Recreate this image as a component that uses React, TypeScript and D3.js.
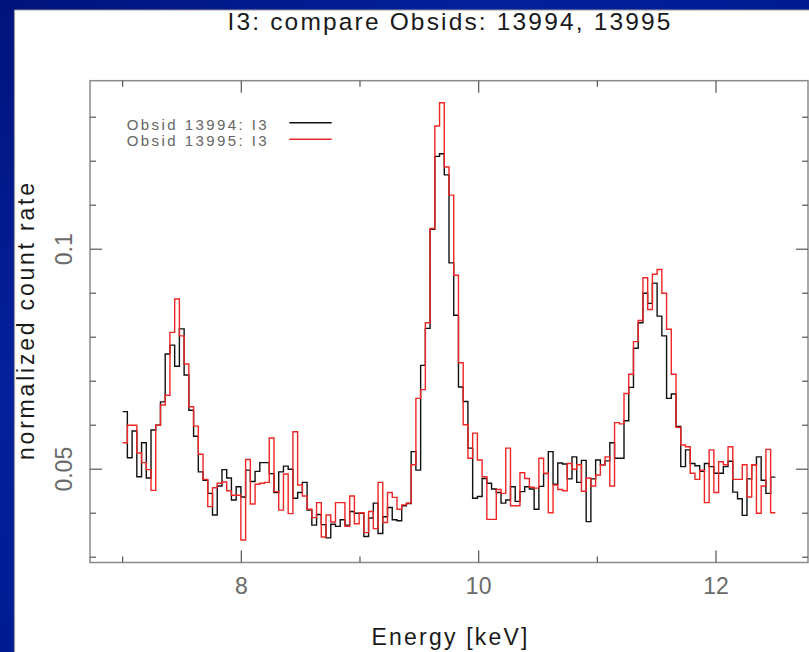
import React from 'react';
import * as d3 from 'd3';

// Spectrum bins span 7.0–12.5 keV, equal width
const energyStart = 7.0;
const energyEnd = 12.5;

// Normalized count rate per bin, Obsid 13994 (I3)
const obsid13994 = [
  0.0631, 0.0526, 0.0587, 0.0483, 0.0560, 0.0480, 0.0589, 0.0600, 0.0653, 0.0762,
  0.0782, 0.0734, 0.0819, 0.0714, 0.0634, 0.0575, 0.0494, 0.0475, 0.0445, 0.0396,
  0.0462, 0.0499, 0.0480, 0.0430, 0.0460, 0.0437, 0.0498, 0.0472, 0.0495, 0.0515,
  0.0515, 0.0490, 0.0447, 0.0494, 0.0507, 0.0500, 0.0434, 0.0447, 0.0470, 0.0407,
  0.0373, 0.0397, 0.0374, 0.0344, 0.0375, 0.0370, 0.0385, 0.0373, 0.0404, 0.0400,
  0.0400, 0.0347, 0.0389, 0.0423, 0.0354, 0.0392, 0.0413, 0.0385, 0.0383, 0.0417,
  0.0422, 0.0540, 0.0498, 0.0736, 0.0820, 0.1045, 0.1211, 0.1217, 0.1169, 0.0969,
  0.0850, 0.0687, 0.0654, 0.0548, 0.0434, 0.0438, 0.0479, 0.0468, 0.0455, 0.0447,
  0.0423, 0.0430, 0.0460, 0.0427, 0.0449, 0.0460, 0.0455, 0.0409, 0.0461, 0.0490,
  0.0540, 0.0466, 0.0514, 0.0512, 0.0478, 0.0528, 0.0470, 0.0520, 0.0381, 0.0478,
  0.0521, 0.0510, 0.0519, 0.0560, 0.0525, 0.0525, 0.0610, 0.0686, 0.0775, 0.0833,
  0.0900, 0.0877, 0.0923, 0.0848, 0.0803, 0.0661, 0.0671, 0.0597, 0.0506, 0.0544,
  0.0513, 0.0508, 0.0495, 0.0513, 0.0506, 0.0491, 0.0491, 0.0506, 0.0518, 0.0448,
  0.0433, 0.0395, 0.0478, 0.0510, 0.0528, 0.0475, 0.0445, 0.0482,
];

// Normalized count rate per bin, Obsid 13995 (I3)
const obsid13995 = [
  0.0560, 0.0600, 0.0600, 0.0537, 0.0515, 0.0499, 0.0452, 0.0600, 0.0646, 0.0668,
  0.0811, 0.0887, 0.0803, 0.0739, 0.0642, 0.0598, 0.0534, 0.0477, 0.0415, 0.0458,
  0.0468, 0.0471, 0.0451, 0.0441, 0.0441, 0.0339, 0.0522, 0.0421, 0.0466, 0.0468,
  0.0470, 0.0571, 0.0449, 0.0407, 0.0489, 0.0399, 0.0585, 0.0464, 0.0439, 0.0409,
  0.0390, 0.0424, 0.0346, 0.0396, 0.0380, 0.0424, 0.0424, 0.0370, 0.0439, 0.0376,
  0.0401, 0.0356, 0.0404, 0.0365, 0.0470, 0.0379, 0.0447, 0.0436, 0.0409, 0.0419,
  0.0423, 0.0510, 0.0661, 0.0681, 0.0833, 0.1047, 0.1280, 0.1333, 0.1187, 0.1123,
  0.0941, 0.0742, 0.0601, 0.0525, 0.0582, 0.0521, 0.0483, 0.0386, 0.0386, 0.0454,
  0.0445, 0.0548, 0.0417, 0.0417, 0.0492, 0.0479, 0.0459, 0.0457, 0.0525, 0.0491,
  0.0401, 0.0464, 0.0454, 0.0451, 0.0513, 0.0500, 0.0510, 0.0450, 0.0480, 0.0462,
  0.0487, 0.0510, 0.0528, 0.0462, 0.0606, 0.0603, 0.0672, 0.0716, 0.0790, 0.0838,
  0.0935, 0.0863, 0.0943, 0.0954, 0.0900, 0.0818, 0.0716, 0.0595, 0.0555, 0.0551,
  0.0491, 0.0477, 0.0498, 0.0424, 0.0544, 0.0447, 0.0517, 0.0510, 0.0551, 0.0477,
  0.0477, 0.0510, 0.0437, 0.0510, 0.0400, 0.0462, 0.0545, 0.0401,
];

const xMajorTicks = [8, 10, 12];
const xMinorTicks = [7, 9, 11];
const yMajorTicks = [0.05, 0.1];
const yMajorLabels = ['0.05', '0.1'];
const yMinorTicks = [0.03, 0.04, 0.06, 0.07, 0.08, 0.09, 0.11, 0.12, 0.13];
const legendLabels = ['Obsid 13994: I3', 'Obsid 13995: I3'];
const seriesColors = ['#111111', '#ee2626'];

const W = 809;
const H = 652;
const frame = { left: 90, top: 80.7, right: 808, bottom: 562.5 };
const FONT = "'Liberation Sans', Arial, sans-serif";

const x = d3.scaleLinear().domain([6.725, 12.775]).range([frame.left, frame.right]);
const y = d3.scaleLinear().domain([0.0288, 0.1383]).range([frame.bottom, frame.top]);

function histogramPath(values: number[]): string {
  const width = (energyEnd - energyStart) / values.length;
  const pts: [number, number][] = values.map((v, i) => [energyStart + i * width, v]);
  pts.push([energyEnd, values[values.length - 1]]);
  return (
    d3
      .line<[number, number]>()
      .x((d) => x(d[0]))
      .y((d) => y(d[1]))
      .curve(d3.curveStepAfter)(pts) || ''
  );
}

export default function App() {
  const major = 12;
  const minor = 6;
  const tickColor = '#555';
  return (
    <div style={{ position: 'absolute', left: 0, top: 0 }}>
      <svg width={W} height={H} style={{ display: 'block' }}>
        <defs>
          <linearGradient id="slideBg" x1="0" y1="0" x2="1" y2="1">
            <stop offset="0" stopColor="#00137c" />
            <stop offset="0.3" stopColor="#04209c" />
            <stop offset="0.55" stopColor="#001a90" />
            <stop offset="0.8" stopColor="#0627a8" />
            <stop offset="1" stopColor="#011c96" />
          </linearGradient>
        </defs>
        <rect x={0} y={0} width={W} height={H} fill="url(#slideBg)" />
        <rect x={14.5} y={10} width={W} height={H} fill="#ffffff" />
        <line x1={14.5} y1={10} x2={W} y2={10} stroke="#9a9a9a" strokeWidth={1.2} />
        <line x1={14.5} y1={10} x2={14.5} y2={H} stroke="#9a9a9a" strokeWidth={1.2} />

        {/* title */}
        <text
          x={449}
          y={30}
          textAnchor="middle"
          fontFamily={FONT}
          fontSize={24.5}
          fill="#1a1a1a"
          textLength={443}
          lengthAdjust="spacing"
        >
          I3: compare Obsids: 13994, 13995
        </text>

        {/* plot frame */}
        <rect
          x={frame.left}
          y={frame.top}
          width={frame.right - frame.left}
          height={frame.bottom - frame.top}
          fill="none"
          stroke="#8a8a8a"
          strokeWidth={1.5}
        />

        {/* x ticks, bottom and top */}
        {[...xMajorTicks.map((t) => [t, major]), ...xMinorTicks.map((t) => [t, minor])].map(([t, len], i) => (
          <g key={'xt' + i} stroke={tickColor} strokeWidth={1.2}>
            <line x1={x(t)} x2={x(t)} y1={frame.bottom} y2={frame.bottom - len} />
            <line x1={x(t)} x2={x(t)} y1={frame.top} y2={frame.top + len} />
          </g>
        ))}
        {/* y ticks, left and right */}
        {[...yMajorTicks.map((t) => [t, major]), ...yMinorTicks.map((t) => [t, minor])].map(([t, len], i) => (
          <g key={'yt' + i} stroke={tickColor} strokeWidth={1.2}>
            <line x1={frame.left} x2={frame.left + len} y1={y(t)} y2={y(t)} />
            <line x1={frame.right} x2={frame.right - len} y1={y(t)} y2={y(t)} />
          </g>
        ))}

        {/* x tick labels */}
        {xMajorTicks.map((t) => (
          <text
            key={'xl' + t}
            x={x(t)}
            y={594}
            textAnchor="middle"
            fontFamily={FONT}
            fontSize={23}
            fill="#6a6a6a"
          >
            {t}
          </text>
        ))}
        {/* y tick labels, rotated */}
        {yMajorTicks.map((t, i) => (
          <text
            key={'yl' + t}
            transform={`translate(72,${y(t)}) rotate(-90)`}
            textAnchor="middle"
            fontFamily={FONT}
            fontSize={23}
            fill="#6a6a6a"
          >
            {yMajorLabels[i]}
          </text>
        ))}

        {/* axis titles */}
        <text
          x={449.5}
          y={645}
          textAnchor="middle"
          fontFamily={FONT}
          fontSize={23}
          fill="#1a1a1a"
          textLength={156}
          lengthAdjust="spacing"
        >
          Energy [keV]
        </text>
        <text
          transform={`translate(33.5,321.5) rotate(-90)`}
          textAnchor="middle"
          fontFamily={FONT}
          fontSize={23}
          fill="#1a1a1a"
          textLength={277}
          lengthAdjust="spacing"
        >
          normalized count rate
        </text>

        {/* spectra */}
        <path d={histogramPath(obsid13994)} fill="none" stroke={seriesColors[0]} strokeWidth={1.4} />
        <path d={histogramPath(obsid13995)} fill="none" stroke={seriesColors[1]} strokeWidth={1.4} />

        {/* legend */}
        {legendLabels.map((label, i) => (
          <g key={label}>
            <text
              x={126.7}
              y={129.5 + i * 16.3}
              fontFamily={FONT}
              fontSize={15}
              fill="#666"
              textLength={140}
              lengthAdjust="spacing"
            >
              {label}
            </text>
            <line
              x1={289.3}
              x2={331.7}
              y1={122.7 + i * 16.6}
              y2={122.7 + i * 16.6}
              stroke={seriesColors[i]}
              strokeWidth={1.6}
            />
          </g>
        ))}
      </svg>
    </div>
  );
}
